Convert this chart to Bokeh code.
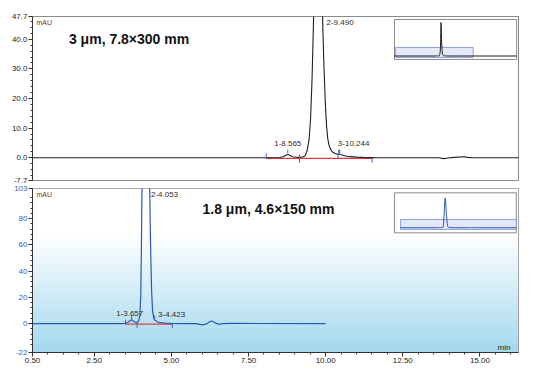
import numpy as np
from bokeh.plotting import figure
from bokeh.layouts import column
from bokeh.models import Range1d, FixedTicker, PrintfTickFormatter, Label
from bokeh.embed import file_html
from bokeh.resources import INLINE

# ---------------- data ----------------
# upper chromatogram: 3 um, 7.8x300 mm (time in min, signal in mAU)
top_time = [0.0, 7.9, 8.30, 8.42, 8.50, 8.565, 8.63, 8.72, 8.85, 8.95,
            9.00, 9.08, 9.14, 9.20, 9.26, 9.31, 9.36, 9.41, 9.45, 9.49,
            9.52, 9.56, 9.60, 9.64, 9.68, 9.71, 9.75, 9.79, 9.83, 9.87,
            9.91, 9.96, 10.02, 10.10, 10.18, 10.244, 10.32, 10.45, 10.60, 10.80,
            11.00, 11.40, 11.80, 13.50, 13.65, 13.80, 14.00, 14.30, 14.45, 14.60,
            25.0]
top_mau = [0.0, 0.0, 0.05, 0.3, 0.8, 1.1, 0.8, 0.35, 0.15, 0.1,
           0.15, 0.3, 0.8, 2.5, 6.0, 13.0, 27.0, 48.0, 90.0, 150.0,
           186.0, 170.0, 130.0, 90.0, 60.0, 44.0, 30.0, 19.0, 11.0, 6.5,
           4.3, 2.9, 2.0, 1.4, 1.15, 1.25, 1.0, 0.6, 0.35, 0.2,
           0.1, 0.03, 0.0, 0.0, -0.3, -0.1, 0.1, 0.3, 0.1, 0.0,
           0.0]
top_peak_names = ["1-8.565", "2-9.490", "3-10.244"]
top_bounds = [7.86, 8.95, 10.21, 11.32]
top_bound_lo = [-0.2, -1.7, -0.2, -1.7]
top_bound_hi = [1.5, 1.1, 1.5, -0.2]
top_apex = [8.565, 10.23, 10.26]

# lower chromatogram: 1.8 um, 4.6x150 mm
bot_time = [0.5, 3.40, 3.51, 3.60, 3.71, 3.78, 3.84, 3.89, 3.94, 3.98,
            4.01, 4.03, 4.06, 4.10, 4.14, 4.17, 4.20, 4.23, 4.26, 4.30,
            4.33, 4.36, 4.39, 4.43, 4.46, 4.50, 4.56, 4.65, 4.80, 5.00,
            5.30, 5.80, 6.00, 6.12, 6.25, 6.32, 6.42, 6.55, 6.65, 7.00,
            10.0]
bot_mau = [0.0, 0.0, 0.3, 1.2, 3.0, 1.8, 0.9, 0.8, 2.0, 6.0,
           22.0, 60.0, 130.0, 250.0, 345.0, 370.0, 330.0, 245.0, 165.0, 100.0,
           55.0, 25.0, 10.0, 4.0, 2.8, 2.2, 1.2, 0.7, 0.4, 0.2,
           0.05, 0.0, -0.9, -0.4, 1.5, 2.0, 0.6, -0.6, 0.0, 0.15,
           0.0]
bot_peak_names = ["1-3.657", "2-4.053", "3-4.423"]
bot_bounds = [3.51, 3.89, 5.03]
bot_bound_lo = [-0.8, -3.2, -3.2]
bot_bound_hi = [3.0, 1.7, 0.0]
bot_apex = [3.71, 4.46]

top_yticks = [-7.7, 0.0, 10.0, 20.0, 30.0, 40.0, 47.7]
bot_yticks = [-22, 0, 20, 40, 60, 80, 103]
bot_xticks = [0.5, 2.5, 5.0, 7.5, 10.0, 12.5, 15.0]

TOP_X = (0.23, 16.1)
TOP_Y = (-7.7, 47.7)
BOT_X = (0.5, 16.25)
BOT_Y = (-22, 103)
TOP_RUN = 25.0
BOT_RUN = 10.0

FONT = "Liberation Sans"
TOP_LINE = "#1e1e1e"
BOT_LINE = "#2b58b0"
RED = "#e8383a"
TICKBLUE = "#3a64b8"
LABEL_COL = "#3a2a1c"
MAU_COL = "#7a2e14"


def style_axis(ax, color):
    ax.major_label_text_font = FONT
    ax.major_label_text_font_size = "8px"
    ax.major_label_text_color = color
    ax.axis_line_color = "#333333"
    ax.major_tick_line_color = "#333333"
    ax.minor_tick_line_color = "#333333"
    ax.major_tick_out = 4
    ax.major_tick_in = 0
    ax.minor_tick_out = 2
    ax.minor_tick_in = 0
    ax.major_label_standoff = 1


def lbl(p, x, y, text, size="8px", color=LABEL_COL, align="left",
        baseline="middle", style="normal"):
    p.add_layout(Label(x=x, y=y, text=text, text_font=FONT,
                       text_font_size=size, text_color=color,
                       text_align=align, text_baseline=baseline,
                       text_font_style=style))


# ---------------- top panel ----------------
p1 = figure(width=523, height=184,
            x_range=Range1d(*TOP_X), y_range=Range1d(*TOP_Y),
            output_backend="svg", toolbar_location=None,
            x_axis_location=None,
            min_border_left=32, min_border_right=5,
            min_border_top=16, min_border_bottom=4)
p1.grid.visible = False
p1.outline_line_color = "#8a8a8a"
p1.background_fill_color = "white"
p1.yaxis.ticker = FixedTicker(ticks=top_yticks,
                              minor_ticks=[v for v in range(-6, 48, 2) if v % 10])
p1.yaxis.formatter = PrintfTickFormatter(format="%.1f")
style_axis(p1.yaxis[0], "#222222")

p1.segment(x0=top_bounds[0], x1=top_bounds[-1], y0=-0.25, y1=-0.25,
           line_color=RED, line_width=1.3)
p1.line(top_time, top_mau, line_color=TOP_LINE, line_width=1.1)
p1.segment(x0=top_bounds, x1=top_bounds, y0=top_bound_lo, y1=top_bound_hi,
           line_color=TICKBLUE, line_width=1)
p1.segment(x0=top_apex, x1=top_apex, y0=1.5, y1=2.7,
           line_color=TICKBLUE, line_width=1)

lbl(p1, 0.36, 45.7, "mAU", size="7px", color=MAU_COL)
lbl(p1, 1.42, 40.2, "3 μm, 7.8×300 mm", size="14px", color="#111111",
    style="bold")
lbl(p1, 8.565, 4.9, top_peak_names[0], align="center")
lbl(p1, 9.83, 45.7, top_peak_names[1])
lbl(p1, 10.20, 4.9, top_peak_names[2])

ins1 = p1.subplot(x_source=Range1d(0, TOP_RUN), y_source=Range1d(-19, 203),
                  x_target=Range1d(12.05, 16.04), y_target=Range1d(33.2, 46.7))
ins1.quad(left=0, right=TOP_RUN, bottom=-19, top=203,
          fill_color="white", line_color="#8a8a8a", line_width=1)
ins1.quad(left=TOP_X[0], right=TOP_X[1], bottom=TOP_Y[0], top=TOP_Y[1],
          fill_color="#e4e9f7", line_color="#8f9fd8", line_width=1)
ins1.line(top_time, top_mau, line_color=TOP_LINE, line_width=1)

# ---------------- bottom panel ----------------
p2 = figure(width=523, height=190,
            x_range=Range1d(*BOT_X), y_range=Range1d(*BOT_Y),
            output_backend="svg", toolbar_location=None,
            min_border_left=32, min_border_right=5,
            min_border_top=4, min_border_bottom=22)
p2.grid.visible = False
p2.outline_line_color = "#8a8a8a"

# background gradient (white -> light blue towards the bottom)
N = 240
ys = np.linspace(BOT_Y[0], BOT_Y[1], N)
white_at = 68.0
frac = np.clip((white_at - ys) / (white_at - BOT_Y[0]), 0, 1)
top_rgb = np.array([255, 255, 255])
bot_rgb = np.array([164, 217, 240])
img = np.zeros((N, 1), dtype=np.uint32)
view = img.view(dtype=np.uint8).reshape((N, 1, 4))
for k in range(3):
    view[:, 0, k] = (top_rgb[k] + (bot_rgb[k] - top_rgb[k]) * frac).astype(np.uint8)
view[:, 0, 3] = 255
p2.image_rgba(image=[img], x=BOT_X[0], y=BOT_Y[0],
              dw=BOT_X[1] - BOT_X[0], dh=BOT_Y[1] - BOT_Y[0])

p2.yaxis.ticker = FixedTicker(ticks=bot_yticks,
                              minor_ticks=[v for v in range(-20, 104, 4) if v % 20])
p2.yaxis.formatter = PrintfTickFormatter(format="%d")
style_axis(p2.yaxis[0], "#2f63c8")
p2.xaxis.ticker = FixedTicker(ticks=bot_xticks,
                              minor_ticks=[k * 0.5 for k in range(1, 33)
                                           if k * 0.5 not in bot_xticks])
p2.xaxis.formatter = PrintfTickFormatter(format="%.2f")
style_axis(p2.xaxis[0], "#222222")

p2.segment(x0=bot_bounds[0], x1=bot_bounds[-1], y0=-0.3, y1=-0.3,
           line_color=RED, line_width=1.3)
p2.line(bot_time, bot_mau, line_color=BOT_LINE, line_width=1.2)
p2.segment(x0=bot_bounds, x1=bot_bounds, y0=bot_bound_lo, y1=bot_bound_hi,
           line_color=TICKBLUE, line_width=1)
p2.segment(x0=bot_apex, x1=bot_apex, y0=3.2, y1=6.2,
           line_color=TICKBLUE, line_width=1)

lbl(p2, 0.63, 98.4, "mAU", size="7px", color=MAU_COL)
lbl(p2, 6.01, 87.0, "1.8 μm, 4.6×150 mm", size="14px", color="#111111",
    style="bold")
lbl(p2, 3.65, 8.0, bot_peak_names[0], align="center")
lbl(p2, 4.34, 98.4, bot_peak_names[1])
lbl(p2, 4.57, 7.1, bot_peak_names[2])
lbl(p2, 15.99, -18.2, "min", align="right", color="#222222")

ins2 = p2.subplot(x_source=Range1d(0, BOT_RUN), y_source=Range1d(-64, 436),
                  x_target=Range1d(12.23, 16.18), y_target=Range1d(69.2, 99.7))
ins2.quad(left=0, right=BOT_RUN, bottom=-64, top=436,
          fill_color="white", line_color="#8a8a8a", line_width=1)
ins2.quad(left=BOT_X[0], right=min(BOT_X[1], BOT_RUN), bottom=BOT_Y[0], top=BOT_Y[1],
          fill_color="#e4e9f7", line_color="#8f9fd8", line_width=1)
ins2.line(bot_time, bot_mau, line_color=BOT_LINE, line_width=1)

layout = column(p1, p2)
open("out.html", "w").write(file_html(layout, INLINE))
